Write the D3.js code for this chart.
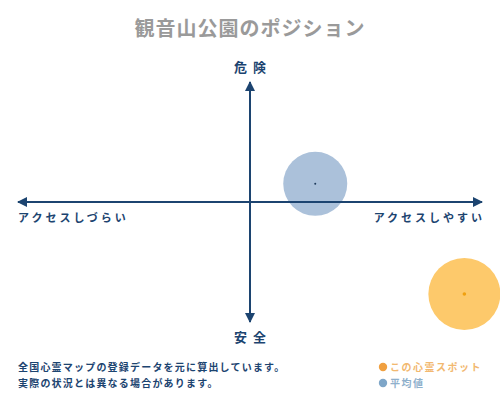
<!DOCTYPE html>
<html><head><meta charset="utf-8">
<script src="https://cdn.jsdelivr.net/npm/d3@7"></script>
<style>
body{margin:0;background:#fff;}
text{font-family:"Noto Sans CJK JP","Noto Sans",sans-serif;}
</style></head>
<body><svg id="c" width="500" height="400"></svg>
<script>
const title = "観音山公園のポジション";
const axisLabels = {top:"危険", bottom:"安全", left:"アクセスしづらい", right:"アクセスしやすい"};
const seriesNames = ["この心霊スポット","平均値"];
const seriesX = [92, 28];   // access (-100 hard .. 100 easy)
const seriesY = [-76, 15];  // danger (-100 safe .. 100 dangerous)
const seriesR = [36, 32];
const notes = ["全国心霊マップの登録データを元に算出しています。","実際の状況とは異なる場合があります。"];

const svg = d3.select("#c");
const navy = "#1c4470";
const x = d3.scaleLinear().domain([-100,100]).range([17,483]);
const y = d3.scaleLinear().domain([-100,100]).range([323,81]);

svg.append("text").attr("x",250).attr("y",36).attr("text-anchor","middle")
  .attr("font-size",20).attr("font-weight","bold").attr("fill","#9a9a9a").attr("letter-spacing",1).text(title);

const fills = ["#fdc96b","#abc1da"];
const dots = ["#f0a010","#1c3a5a"];
[1,0].forEach(i=>{
  svg.append("circle").attr("cx",x(seriesX[i])).attr("cy",y(seriesY[i])).attr("r",seriesR[i])
    .attr("fill",fills[i]);
  svg.append("circle").attr("cx",x(seriesX[i])).attr("cy",y(seriesY[i])).attr("r",i===0?1.8:1).attr("fill",dots[i]);
});

const defs = svg.append("defs");
defs.append("marker").attr("id","ah").attr("viewBox","0 0 10 10").attr("refX",9).attr("refY",5)
  .attr("markerWidth",5).attr("markerHeight",5).attr("orient","auto-start-reverse")
  .append("path").attr("d","M0,0L10,5L0,10z").attr("fill",navy);

svg.append("line").attr("x1",x(-100)+1).attr("x2",x(100)-1).attr("y1",y(0)).attr("y2",y(0))
  .attr("stroke",navy).attr("stroke-width",2).attr("marker-start","url(#ah)").attr("marker-end","url(#ah)");
svg.append("line").attr("x1",x(0)).attr("x2",x(0)).attr("y1",y(100)+1).attr("y2",y(-100)-1)
  .attr("stroke",navy).attr("stroke-width",2).attr("marker-start","url(#ah)").attr("marker-end","url(#ah)");

svg.append("text").attr("x",x(0)+3).attr("y",y(100)-9).attr("text-anchor","middle").attr("font-size",13)
  .attr("font-weight","bold").attr("fill",navy).attr("letter-spacing",6).text(axisLabels.top);
svg.append("text").attr("x",x(0)+3).attr("y",y(-100)+19).attr("text-anchor","middle").attr("font-size",13)
  .attr("font-weight","bold").attr("fill",navy).attr("letter-spacing",6).text(axisLabels.bottom);
svg.append("text").attr("x",x(-100)+1).attr("y",y(0)+20).attr("text-anchor","start").attr("font-size",11)
  .attr("font-weight","bold").attr("fill",navy).attr("letter-spacing",3).text(axisLabels.left);
svg.append("text").attr("x",x(100)+2).attr("y",y(0)+20).attr("text-anchor","end").attr("font-size",11)
  .attr("font-weight","bold").attr("fill",navy).attr("letter-spacing",3).text(axisLabels.right);

notes.forEach((t,i)=>{
  svg.append("text").attr("x",18).attr("y",371+i*16).attr("font-size",10).attr("font-weight","bold")
    .attr("fill",navy).attr("letter-spacing",1.2).text(t);
});

const legDot = ["#f0a040","#7ea6c8"];
const legTxt = ["#f2b870","#8fb0cc"];
seriesNames.forEach((t,i)=>{
  svg.append("circle").attr("cx",383).attr("cy",367+i*16).attr("r",4.2).attr("fill",legDot[i]);
  svg.append("text").attr("x",390).attr("y",371+i*16).attr("font-size",10).attr("font-weight","bold")
    .attr("fill",legTxt[i]).attr("letter-spacing",1.5).text(t);
});
</script></body></html>
